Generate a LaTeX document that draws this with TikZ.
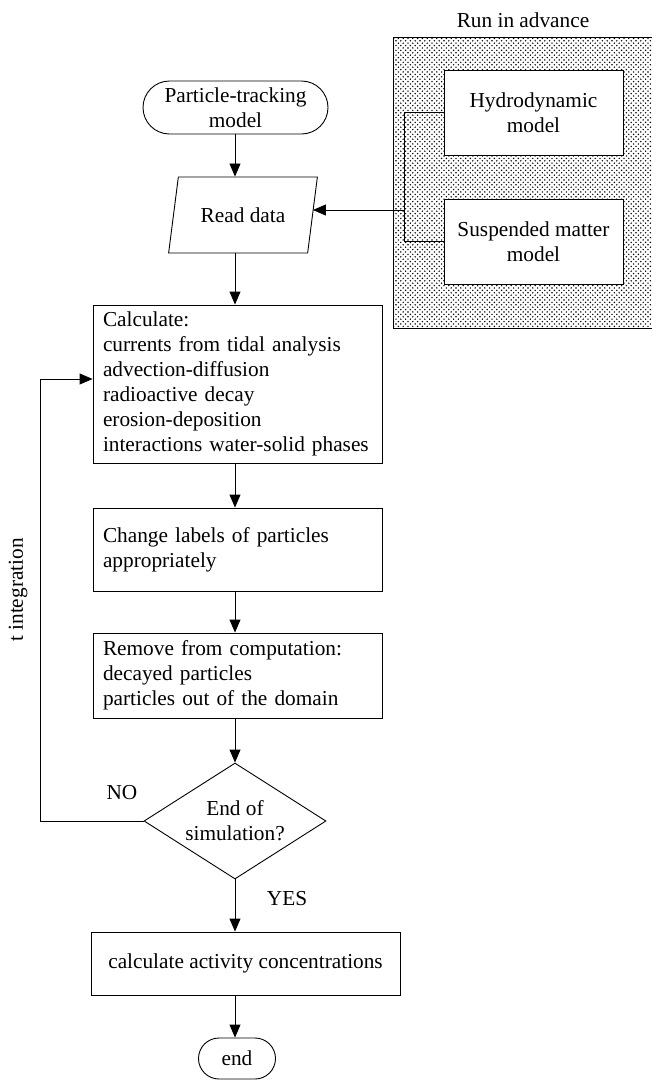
\documentclass[tikz,border=0pt]{standalone}
\usepackage{fontspec}
\setmainfont{Liberation Serif}
\usetikzlibrary{shapes.geometric,shapes.misc,arrows.meta,patterns}
\pgfdeclarepatternformonly{sdots}{\pgfqpoint{-1pt}{-1pt}}{\pgfqpoint{4pt}{4pt}}{\pgfqpoint{4.8pt}{4.8pt}}{%
  \pgfpathcircle{\pgfqpoint{0pt}{0pt}}{0.8pt}%
  \pgfpathcircle{\pgfqpoint{2.4pt}{2.4pt}}{0.8pt}%
  \pgfusepath{fill}}
\tikzset{
  base/.style={font=\fontsize{21.3}{25}\selectfont},
  lbox/.style={base, draw, line width=0.9pt, fill=white, align=left,
    text width=269pt, inner xsep=10pt, inner ysep=0pt, minimum width=289pt},
  cbox/.style={base, draw, line width=0.9pt, fill=white, align=center, inner sep=0pt},
  term/.style={base, draw, rounded rectangle, line width=0.9pt, align=center, inner sep=0pt},
  conn/.style={line width=0.9pt},
  arr/.style={line width=0.9pt, -{Triangle[length=13pt,width=11pt]}},
}
\begin{document}
\begin{tikzpicture}[x=1pt,y=-1pt]
\useasboundingbox (0,0) rectangle (652,1080);

% run-in-advance region
\node[base] (adv) at (523,20) {Run in advance};
\begin{scope}
  \clip (0,0) rectangle (652,1080);
  \filldraw[pattern=sdots, line width=0.9pt] (393,37) rectangle (670,328);
\end{scope}
\node[cbox, minimum width=179pt, minimum height=85pt] (hydro) at (533.5,112.5) {Hydrodynamic\\model};
\node[cbox, minimum width=179pt, minimum height=85pt] (susp) at (533.5,241.5) {Suspended matter\\model};

% main chain
\coordinate (ax) at (235,0);
\coordinate (lp) at (40,0);
\coordinate (bus) at (404,210);

\node[term, minimum width=185pt, minimum height=53pt] (ptm) at (235.5,107.5) {Particle-tracking\\model};
\node[base, draw, line width=0.9pt, trapezium, trapezium left angle=67, trapezium right angle=113,
  trapezium stretches=true, minimum width=150pt, minimum height=76pt, inner sep=0pt] (rd) at (243,215) {Read data};
\node[lbox, minimum height=158pt] (calc) at (237.5,384) {Calculate:\\currents from tidal analysis\\advection-diffusion\\radioactive decay\\erosion-deposition\\interactions water-solid phases};
\node[lbox, minimum height=83pt] (chg) at (237.5,549.5) {Change labels of particles\\appropriately};
\node[lbox, minimum height=85pt] (rem) at (237.5,675.5) {Remove from computation:\\decayed particles\\particles out of the domain};
\node[base, draw, diamond, line width=0.9pt, shape aspect=1.57, minimum width=182pt, minimum height=116pt,
  inner sep=0pt, align=center] (dia) at (235,821) {End of\\simulation?};
\node[cbox, minimum width=309pt, minimum height=63pt] (act) at (245.5,963.5) {calculate activity concentrations};
\node[term, minimum width=77pt, minimum height=41pt] (endt) at (237,1058.5) {end};

% labels
\node[base] (no) at (122,793) {NO};
\node[base] (yes) at (287,899) {YES};
\node[base, rotate=90] (tint) at (18,590) {t integration};

% connectors
\coordinate (cin) at ([yshift=5pt]calc.west);
\draw[conn] (hydro.west) -- (hydro.west -| bus) -- (susp.west -| bus) -- (susp.west);
\draw[arr] (bus) -- (bus -| rd.east);
\draw[arr] (ptm.south -| ax) -- (rd.north -| ax);
\draw[arr] (rd.south -| ax) -- (calc.north -| ax);
\draw[arr] (calc.south -| ax) -- (chg.north -| ax);
\draw[arr] (chg.south -| ax) -- (rem.north -| ax);
\draw[arr] (rem.south -| ax) -- (dia.north);
\draw[arr] (dia.south) -- (act.north -| ax);
\draw[arr] (act.south -| ax) -- (endt.north -| ax);
\draw[arr] (dia.west) -- (dia.west -| lp) -- (lp |- cin) -- (cin);
\end{tikzpicture}
\end{document}
